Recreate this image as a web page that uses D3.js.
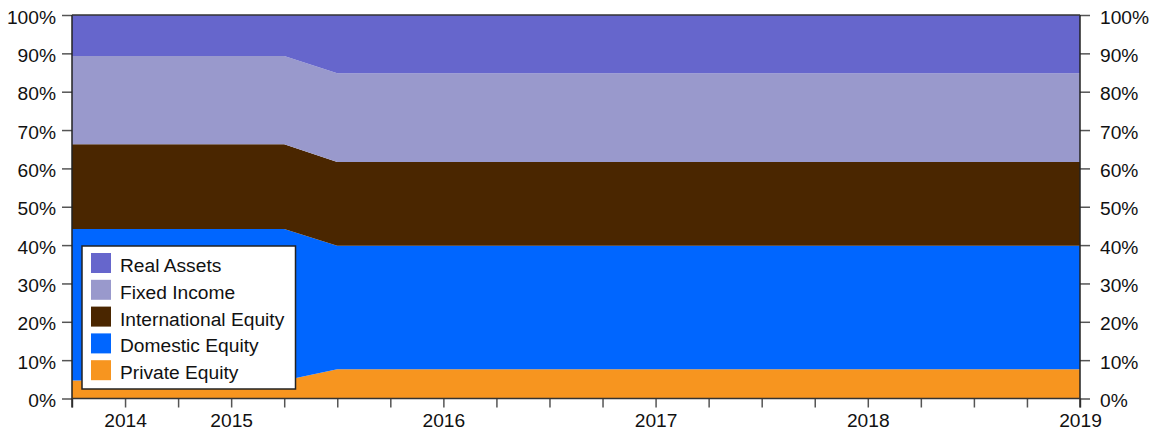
<!DOCTYPE html>
<html>
<head>
<meta charset="utf-8">
<script src="https://cdn.jsdelivr.net/npm/d3@7"></script>
<style>
  html, body { margin: 0; padding: 0; background: #fff; }
  svg { display: block; font-family: "Liberation Sans", Arial, sans-serif; }
</style>
</head>
<body>
<svg id="chart" width="1154" height="433"></svg>
<script>
// Quarterly points along the x axis (index positions)
const quarters = [0,1,2,3,4,5,6,7,8,9,10,11,12,13,14,15,16,17,18,19];
// Tick labels at quarterly ticks
const tickLabels = ["", "2014", "", "2015", "", "", "", "2016", "", "", "", "2017", "", "", "", "2018", "", "", "", "2019"];
const yTicks = [0,10,20,30,40,50,60,70,80,90,100];

const seriesNames = ["Private Equity", "Domestic Equity", "International Equity", "Fixed Income", "Real Assets"];
const seriesColors = ["#f7951f", "#0066ff", "#4a2600", "#9999cc", "#6666cc"];

// Allocation percentages per quarter
const privateEquity       = [4.7,4.7,4.7,4.7,4.7,7.6,7.6,7.6,7.6,7.6,7.6,7.6,7.6,7.6,7.6,7.6,7.6,7.6,7.6,7.6];
const domesticEquity      = [39.5,39.5,39.5,39.5,39.5,32.2,32.2,32.2,32.2,32.2,32.2,32.2,32.2,32.2,32.2,32.2,32.2,32.2,32.2,32.2];
const internationalEquity = [22.1,22.1,22.1,22.1,22.1,21.9,21.9,21.9,21.9,21.9,21.9,21.9,21.9,21.9,21.9,21.9,21.9,21.9,21.9,21.9];
const fixedIncome         = [23.0,23.0,23.0,23.0,23.0,23.1,23.1,23.1,23.1,23.1,23.1,23.1,23.1,23.1,23.1,23.1,23.1,23.1,23.1,23.1];
const realAssets          = [10.7,10.7,10.7,10.7,10.7,15.2,15.2,15.2,15.2,15.2,15.2,15.2,15.2,15.2,15.2,15.2,15.2,15.2,15.2,15.2];

const seriesValues = [privateEquity, domesticEquity, internationalEquity, fixedIncome, realAssets];

const table = quarters.map((q, i) => {
  const row = { q };
  seriesNames.forEach((n, k) => row[n] = seriesValues[k][i]);
  return row;
});

const svg = d3.select("#chart");
const mLeft = 72, mRight = 1080, mTop = 15, mBottom = 398.5;
const fontSize = "19.2px";

const x = d3.scaleLinear().domain([0, 19]).range([mLeft, mRight]);
const y = d3.scaleLinear().domain([0, 100]).range([mBottom, mTop]);

const stacked = d3.stack().keys(seriesNames)(table);

const area = d3.area()
  .x(d => x(d.data.q))
  .y0(d => y(d[0]))
  .y1(d => y(d[1]));

svg.append("g").selectAll("path")
  .data(stacked)
  .join("path")
  .attr("d", area)
  .attr("fill", (d, i) => seriesColors[i]);

// Left axis
const yAxisL = d3.axisLeft(y).tickValues(yTicks).tickFormat(d => d + "%").tickSize(10).tickPadding(6);
const gL = svg.append("g").attr("transform", `translate(${mLeft},0)`).call(yAxisL);
// Right axis
const yAxisR = d3.axisRight(y).tickValues(yTicks).tickFormat(d => d + "%").tickSize(10).tickPadding(10);
const gR = svg.append("g").attr("transform", `translate(${mRight},0)`).call(yAxisR);
// Bottom axis
const xAxis = d3.axisBottom(x).tickValues(quarters).tickFormat((d, i) => tickLabels[i]).tickSize(9).tickPadding(6);
const gB = svg.append("g").attr("transform", `translate(0,${mBottom})`).call(xAxis);

[gL, gR, gB].forEach(g => {
  g.select(".domain").remove();
  g.selectAll(".tick line").attr("stroke", "#555").attr("stroke-width", 1.5);
  g.selectAll(".tick text").attr("fill", "#111").style("font-size", fontSize).style("font-family", "'Liberation Sans', Arial, sans-serif");
});
gL.selectAll(".tick text").attr("dy", "0.42em");
gR.selectAll(".tick text").attr("dy", "0.42em");
gB.selectAll(".tick text").attr("dy", "0.68em");

// Frame lines
svg.append("line").attr("x1", mLeft).attr("x2", mLeft).attr("y1", mTop).attr("y2", mBottom + 9)
  .attr("stroke", "#222").attr("stroke-width", 1.5);
svg.append("line").attr("x1", mRight).attr("x2", mRight).attr("y1", mTop).attr("y2", mBottom + 9)
  .attr("stroke", "#222").attr("stroke-width", 1.5);
svg.append("line").attr("x1", mLeft).attr("x2", mRight).attr("y1", mTop).attr("y2", mTop)
  .attr("stroke", "#333").attr("stroke-width", 1.5);
svg.append("line").attr("x1", mLeft).attr("x2", mRight).attr("y1", mBottom).attr("y2", mBottom)
  .attr("stroke", "#333").attr("stroke-width", 1.5);

// Legend
const legend = svg.append("g");
legend.append("rect")
  .attr("x", 82).attr("y", 246).attr("width", 213.5).attr("height", 143)
  .attr("fill", "#fff").attr("stroke", "#222").attr("stroke-width", 1.5);
const legendOrder = [4, 3, 2, 1, 0];
legendOrder.forEach((k, i) => {
  const yy = 253 + i * 26.8;
  legend.append("rect").attr("x", 91).attr("y", yy).attr("width", 20).attr("height", 20)
    .attr("fill", seriesColors[k]);
  legend.append("text").attr("x", 120).attr("y", yy + 19)
    .style("font-size", fontSize).attr("fill", "#111")
    .text(seriesNames[k]);
});
</script>
</body>
</html>
